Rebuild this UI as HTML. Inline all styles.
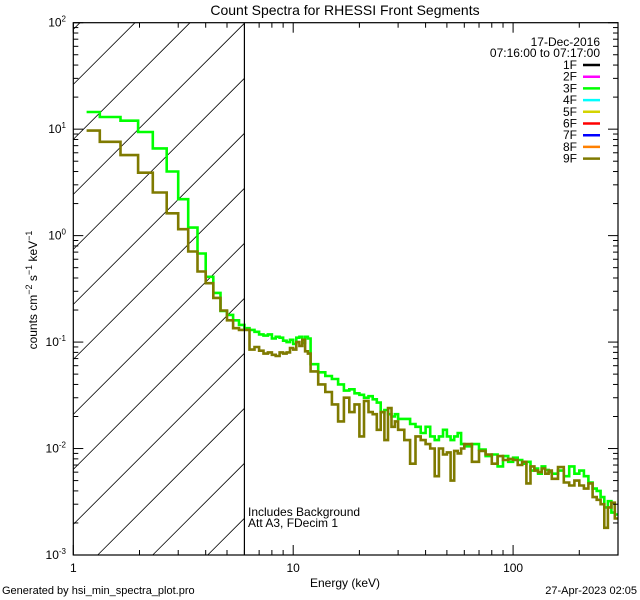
<!DOCTYPE html>
<html><head><meta charset="utf-8"><style>
html,body{margin:0;padding:0;background:#fff;width:640px;height:600px;overflow:hidden;}
svg{display:block;font-family:"Liberation Sans",sans-serif;overflow:hidden;}
</style></head><body>
<svg id="chart" width="640" height="600" viewBox="0 0 640 600" xmlns="http://www.w3.org/2000/svg">
<rect width="640" height="600" fill="#fff"/>
<text x="345" y="15" font-size="14" text-anchor="middle">Count Spectra for RHESSI Front Segments</text>
<defs><clipPath id="plotclip"><rect x="73.3" y="22.7" width="544.7" height="532.3"/></clipPath></defs>
<g id="hatch"></g>
<g id="series" clip-path="url(#plotclip)"></g>
<g id="axes"></g>
<text x="248" y="516" font-size="12">Includes Background</text>
<text x="248" y="527" font-size="12">Att A3, FDecim  1</text>
<text x="345" y="587" font-size="12" text-anchor="middle">Energy (keV)</text>
<text transform="translate(37,290) rotate(-90)" font-size="12" text-anchor="middle">counts cm<tspan dy="-5" font-size="9">−2</tspan><tspan dy="5"> s</tspan><tspan dy="-5" font-size="9">−1</tspan><tspan dy="5"> keV</tspan><tspan dy="-5" font-size="9">−1</tspan></text>
<text x="2" y="594" font-size="11">Generated by hsi_min_spectra_plot.pro</text>
<text x="637" y="594" font-size="11" text-anchor="end">27-Apr-2023 02:05</text>
<text x="600" y="46" font-size="12" text-anchor="end">17-Dec-2016</text>
<text x="600" y="57" font-size="12" text-anchor="end">07:16:00 to 07:17:00</text>
<g id="legend"></g>
</svg>
<script>
const edges = [1.15,1.32,1.64,1.97,2.3,2.66,3.0,3.33,3.67,4.0,4.33,4.67,5.0,5.33,5.67,6.0,
6.33,6.67,7.0,7.33,7.67,8.0,8.33,8.67,9.0,9.33,9.67,10.0,10.33,10.67,11.0,11.33,11.67,12.0,
13,14,15,16,17,18,19,20,21,22,23,24,25,26,27,28,29,30,
32,34,36,38,40,42,44,46,48,50,52,54,56,58,60,
65,70,75,80,85,90,95,100,105,110,115,120,125,130,135,140,145,150,
160,170,180,190,200,210,220,230,240,250,260,270,280,290,300];
const series3F = [14.5,13.0,12.0,9.4,6.6,4.0,2.2,1.19,0.68,0.41,0.29,0.196,0.18,0.16,0.145,
0.135,0.13,0.125,0.118,0.115,0.118,0.108,0.112,0.110,0.103,0.100,0.105,0.096,0.110,0.112,0.098,0.112,0.108,
0.062,0.052,0.048,0.045,0.040,0.035,0.036,0.033,0.032,0.030,0.031,0.029,0.027,0.022,0.023,0.021,0.020,0.021,
0.019,0.019,0.017,0.016,0.014,0.016,0.013,0.012,0.013,0.015,0.013,0.012,0.013,0.014,0.011,
0.0105,0.011,0.0098,0.0085,0.0088,0.0068,0.0085,0.0075,0.0082,0.0078,0.0072,0.0075,0.0062,0.0065,0.0058,0.0068,0.0063,0.0060,
0.0058,0.0062,0.0055,0.0068,0.0058,0.0062,0.0055,0.0048,0.0042,0.0040,0.0035,0.0028,0.0032,0.0025,0.0024];
const series9F = [9.7,7.6,5.7,3.9,2.54,1.62,1.15,0.71,0.46,0.357,0.26,0.198,0.16,0.135,0.13,
0.13,0.085,0.09,0.083,0.078,0.08,0.076,0.074,0.08,0.078,0.08,0.088,0.085,0.1,0.092,0.105,0.082,0.078,
0.053,0.040,0.034,0.026,0.018,0.030,0.022,0.026,0.013,0.028,0.022,0.021,0.015,0.022,0.012,0.024,0.016,0.018,
0.015,0.012,0.0072,0.013,0.012,0.011,0.010,0.0055,0.010,0.0088,0.0092,0.005,0.0095,0.009,0.010,
0.011,0.0075,0.0095,0.0088,0.0072,0.0085,0.0078,0.0080,0.0078,0.0070,0.0075,0.0047,0.0068,0.0062,0.0060,0.0065,0.0058,0.0062,
0.0052,0.0067,0.0048,0.0045,0.0050,0.0045,0.0042,0.0047,0.0035,0.0033,0.0030,0.0018,0.0028,0.0031,0.0022];
const legendLabels = ["1F","2F","3F","4F","5F","6F","7F","8F","9F"];
const legendColors = ["#000000","#ff00ff","#00ff00","#00ffff","#d4d400","#ff0000","#0000ff","#ff8000","#7f7a00"];
const xTickValues = [1,10,100];
const xTickLabels = ["1","10","100"];
const yTickExponents = [2,1,0,-1,-2,-3];

const NS="http://www.w3.org/2000/svg";
const L=73.3,R=618,T=22.7,B=555;
const xMin=1,xMax=300,yMin=-3,yMax=2;
function sx(e){return L+(Math.log10(e)-Math.log10(xMin))/(Math.log10(xMax)-Math.log10(xMin))*(R-L);}
function sy(v){return T+(yMax-Math.log10(v))/(yMax-yMin)*(B-T);}
function mk(tag,attrs,parent){const el=document.createElementNS(NS,tag);for(const k in attrs)el.setAttribute(k,attrs[k]);parent.appendChild(el);return el;}

// hatch lines y = c - x, clipped analytically to [L, xr] x [T, B]
const hatch=document.getElementById('hatch');
const xr=sx(6);
for(let c=157.7-55*4;c<900;c+=55){
  const xa=Math.max(L,c-B), xb=Math.min(xr,c-T);
  if(xb<=xa)continue;
  const ln=mk('line',{x1:xa,y1:c-xa,x2:xb,y2:c-xb,stroke:'#000','stroke-width':0.8},hatch);
  
  
}
const sg=document.getElementById('series');
function stepPath(vals){
  let d='';
  for(let i=0;i<vals.length;i++){
    const x1=sx(edges[i]),x2=sx(edges[i+1]),y=sy(vals[i]);
    d+=(i===0?'M':'L')+x1.toFixed(1)+','+y.toFixed(1)+'L'+x2.toFixed(1)+','+y.toFixed(1);
  }
  return d;
}
const p3=mk('path',{d:stepPath(series3F),fill:'none',stroke:'#00ff00','stroke-width':2.6},sg);


const p9=mk('path',{d:stepPath(series9F),fill:'none',stroke:'#7f7a00','stroke-width':2.6},sg);



const ax=document.getElementById('axes');
const frame=mk('rect',{x:L,y:T,width:R-L,height:B-T,fill:'none',stroke:'#000','stroke-width':1.2},ax);


const vl=mk('line',{x1:sx(6),y1:T,x2:sx(6),y2:B,stroke:'#000','stroke-width':1.2},ax);


for(let dec=0;dec<3;dec++){
  for(let m=1;m<10;m++){
    const e=Math.pow(10,dec)*m; if(e>xMax)break;
    const x=sx(e),len=m===1?10:5;
    const t1=mk('line',{x1:x,y1:B,x2:x,y2:B-len,stroke:'#000'},ax);
    
    
    const t2=mk('line',{x1:x,y1:T,x2:x,y2:T+len,stroke:'#000'},ax);
    
    
  }
}
xTickValues.forEach((v,i)=>{
  const t=mk('text',{x:sx(v),y:572,'font-size':12,'text-anchor':'middle'},ax);
  t.textContent=xTickLabels[i];
  
  
});
yTickExponents.forEach(ex=>{
  for(let m=1;m<10;m++){
    const v=Math.pow(10,ex)*m; if(Math.log10(v)>yMax+1e-9)break;
    const y=sy(v),len=m===1?10:5;
    const t1=mk('line',{x1:L,y1:y,x2:L+len,y2:y,stroke:'#000'},ax);
    
    
    const t2=mk('line',{x1:R,y1:y,x2:R-len,y2:y,stroke:'#000'},ax);
    
    
  }
  const t=mk('text',{x:66,y:sy(Math.pow(10,ex))+4,'font-size':12,'text-anchor':'end'},ax);
  t.innerHTML='10<tspan dy="-5" font-size="8">'+ex+'</tspan>';
  
  
});
const lg=document.getElementById('legend');
legendLabels.forEach((lab,i)=>{
  const y=65+i*11.7;
  const t=mk('text',{x:577,y:y+4,'font-size':12,'text-anchor':'end'},lg);
  t.textContent=lab;
  
  
  const l=mk('line',{x1:583,y1:y,x2:600,y2:y,stroke:legendColors[i],'stroke-width':2.5},lg);
  
  
});
</script>
</body></html>
